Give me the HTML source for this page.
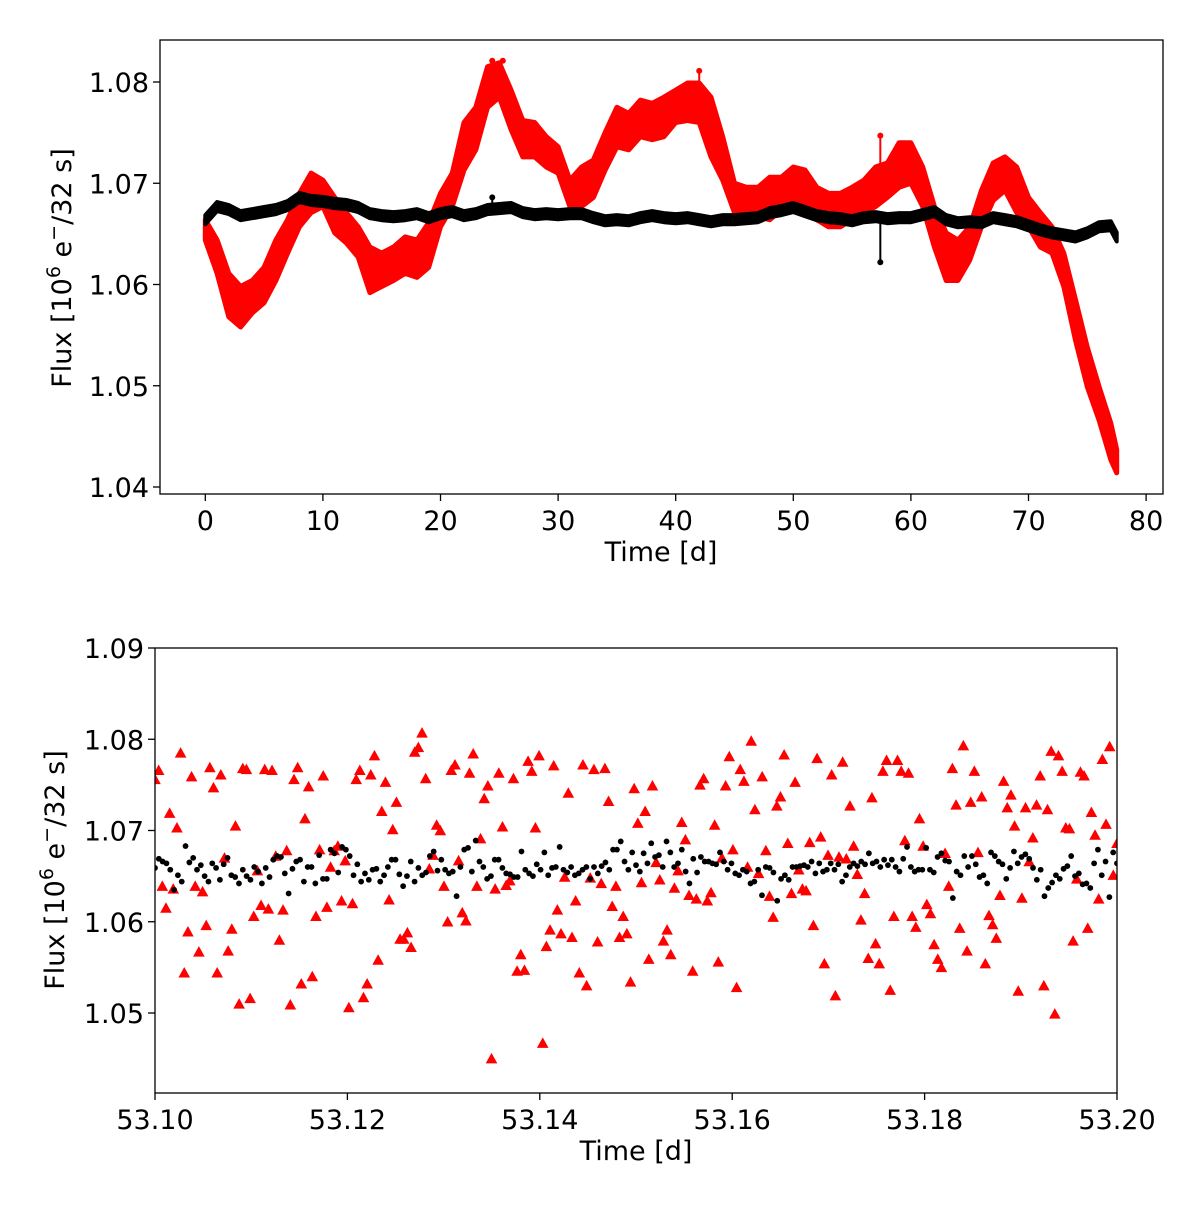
<!DOCTYPE html>
<html><head><meta charset="utf-8"><style>
body{margin:0;background:#fff;}
svg{display:block;font-family:"DejaVu Sans","Liberation Sans",sans-serif;}
</style></head><body>
<svg id="fig" width="1200" height="1205" viewBox="0 0 1200 1205" xmlns="http://www.w3.org/2000/svg">
<g id="top"></g>
<g id="bot"></g>
</svg>
<script>
// ---------- top panel data (daily envelope of light curves) ----------
const topDays = [0,1,2,3,4,5,6,7,8,9,10,11,12,13,14,15,16,17,18,19,20,21,22,23,24,25,26,27,28,29,30,31,32,33,34,35,36,37,38,39,40,41,42,43,44,45,46,47,48,49,50,51,52,53,54,55,56,57,58,59,60,61,62,63,64,65,66,67,68,69,70,71,72,73,74,75,76,77,77.5];
const redHi = [1.0664,1.0644,1.0611,1.0598,1.0604,1.0617,1.0644,1.0664,1.0690,1.0710,1.0703,1.0686,1.0671,1.0657,1.0637,1.0631,1.0637,1.0647,1.0644,1.0661,1.0690,1.0710,1.0760,1.0775,1.0815,1.0819,1.0792,1.0762,1.0760,1.0746,1.0736,1.0703,1.0716,1.0723,1.0750,1.0775,1.0769,1.0782,1.0779,1.0785,1.0792,1.0799,1.0799,1.0785,1.0746,1.0700,1.0696,1.0696,1.0706,1.0706,1.0716,1.0713,1.0696,1.0690,1.0690,1.0696,1.0703,1.0716,1.0720,1.0740,1.0740,1.0716,1.0677,1.0651,1.0644,1.0657,1.0693,1.0720,1.0726,1.0716,1.0686,1.0671,1.0657,1.0631,1.0585,1.0538,1.0499,1.0463,1.0437];
const redLo = [1.0644,1.0611,1.0568,1.0558,1.0572,1.0582,1.0604,1.0631,1.0657,1.0671,1.0677,1.0651,1.0641,1.0627,1.0592,1.0598,1.0604,1.0611,1.0607,1.0617,1.0657,1.0677,1.0713,1.0733,1.0775,1.0785,1.0753,1.0726,1.0726,1.0716,1.0710,1.0677,1.0677,1.0686,1.0713,1.0736,1.0733,1.0746,1.0743,1.0746,1.0760,1.0762,1.0760,1.0726,1.0703,1.0671,1.0667,1.0667,1.0664,1.0674,1.0680,1.0677,1.0664,1.0657,1.0657,1.0664,1.0671,1.0677,1.0686,1.0696,1.0700,1.0677,1.0637,1.0604,1.0604,1.0624,1.0657,1.0683,1.0693,1.0671,1.0657,1.0637,1.0631,1.0598,1.0545,1.0499,1.0466,1.0427,1.0414];
const blackMid = [1.0664,1.0677,1.0674,1.0668,1.0670,1.0672,1.0674,1.0678,1.0686,1.0683,1.0682,1.0680,1.0679,1.0676,1.0670,1.0668,1.0667,1.0668,1.0670,1.0666,1.0670,1.0672,1.0668,1.0670,1.0674,1.0675,1.0676,1.0671,1.0669,1.0670,1.0669,1.0670,1.0670,1.0666,1.0663,1.0664,1.0663,1.0666,1.0668,1.0666,1.0665,1.0666,1.0664,1.0662,1.0664,1.0664,1.0665,1.0666,1.0671,1.0673,1.0676,1.0672,1.0668,1.0666,1.0665,1.0663,1.0666,1.0667,1.0665,1.0666,1.0666,1.0669,1.0672,1.0664,1.0661,1.0662,1.0661,1.0666,1.0664,1.0662,1.0658,1.0654,1.0651,1.0649,1.0647,1.0651,1.0657,1.0658,1.0647];
const blackHalfWidth = 0.00045;
const redSpikeT = [24.4,25.3,42.0,57.4];
const redSpikeV = [1.0821,1.0821,1.0811,1.0747];
const blackSpikeT = [24.4,57.4];
const blackSpikeV = [1.0686,1.0622];
const topXTicks = [0,10,20,30,40,50,60,70,80];
const topYTicks = [1.04,1.05,1.06,1.07,1.08];
const topYLabels = ["1.04","1.05","1.06","1.07","1.08"];

// ---------- bottom panel data ----------
const redFlux = [1.0756,1.0766,1.0639,1.0615,1.0719,1.0636,1.0703,1.0785,1.0544,1.0589,1.0759,1.0639,1.0567,1.0633,1.0596,1.0769,1.0747,1.0544,1.0761,1.0670,1.0568,1.0592,1.0705,1.0510,1.0768,1.0767,1.0516,1.0606,1.0656,1.0618,1.0767,1.0614,1.0766,1.0672,1.0580,1.0613,1.0678,1.0509,1.0756,1.0769,1.0532,1.0713,1.0748,1.0540,1.0606,1.0679,1.0760,1.0616,1.0660,1.0678,1.0683,1.0623,1.0667,1.0506,1.0620,1.0756,1.0766,1.0517,1.0532,1.0761,1.0782,1.0558,1.0721,1.0753,1.0624,1.0701,1.0731,1.0581,1.0581,1.0588,1.0572,1.0786,1.0791,1.0807,1.0757,1.0658,1.0673,1.0706,1.0700,1.0639,1.0600,1.0766,1.0772,1.0667,1.0610,1.0601,1.0763,1.0784,1.0639,1.0691,1.0735,1.0749,1.0450,1.0636,1.0763,1.0704,1.0640,1.0645,1.0757,1.0546,1.0564,1.0547,1.0776,1.0765,1.0703,1.0782,1.0467,1.0573,1.0591,1.0771,1.0613,1.0587,1.0649,1.0741,1.0583,1.0623,1.0544,1.0772,1.0530,1.0648,1.0767,1.0578,1.0642,1.0768,1.0732,1.0617,1.0639,1.0583,1.0606,1.0587,1.0534,1.0746,1.0708,1.0643,
1.0721,1.0559,1.0749,1.0665,1.0646,1.0579,1.0591,1.0564,1.0637,1.0656,1.0709,1.0690,1.0629,1.0546,1.0625,1.0750,1.0757,1.0623,1.0632,1.0706,1.0556,1.0670,1.0749,1.0781,1.0679,1.0528,1.0767,1.0754,1.0660,1.0798,1.0723,1.0653,1.0759,1.0678,1.0628,1.0605,1.0727,1.0737,1.0783,1.0686,1.0631,1.0753,1.0657,1.0636,1.0634,1.0687,1.0596,1.0779,1.0693,1.0554,1.0673,1.0761,1.0519,1.0671,1.0775,1.0669,1.0727,1.0683,1.0652,1.0602,1.0631,1.0560,1.0736,1.0576,1.0554,1.0765,1.0777,1.0525,1.0606,1.0777,1.0765,1.0689,1.0763,1.0606,1.0594,1.0713,1.0683,1.0619,1.0609,1.0575,1.0559,1.0550,1.0675,1.0639,1.0768,1.0728,1.0593,1.0793,1.0568,1.0731,1.0765,1.0676,1.0737,1.0554,1.0607,1.0597,1.0582,1.0629,1.0754,1.0725,1.0739,1.0705,1.0524,1.0626,1.0725,1.0666,1.0692,1.0728,1.0760,1.0530,1.0723,1.0787,1.0499,1.0782,1.0765,1.0703,1.0702,1.0579,1.0647,1.0764,1.0760,1.0593,1.0720,1.0695,1.0625,1.0778,1.0707,1.0792,1.0651,1.0686];
const blackFlux = [1.0659,1.0669,1.0666,1.0664,1.0657,1.0635,1.0651,1.0644,1.0683,1.0665,1.0670,1.0657,1.0662,1.0650,1.0644,1.0664,1.0659,1.0646,1.0663,1.0670,1.0651,1.0649,1.0642,1.0657,1.0650,1.0646,1.0660,1.0655,1.0642,1.0659,1.0649,1.0668,1.0672,1.0671,1.0653,1.0631,1.0658,1.0666,1.0668,1.0644,1.0660,1.0660,1.0642,1.0673,1.0647,1.0647,1.0679,1.0675,1.0654,1.0682,1.0679,1.0672,1.0651,1.0663,1.0644,1.0653,1.0646,1.0657,1.0658,1.0644,1.0651,1.0660,1.0668,1.0668,1.0652,1.0639,1.0650,1.0666,1.0644,1.0659,1.0651,1.0654,1.0672,1.0677,1.0656,1.0668,1.0657,1.0653,1.0655,1.0628,1.0660,1.0679,1.0681,1.0655,1.0689,1.0666,1.0660,1.0647,1.0650,1.0668,1.0668,1.0659,1.0653,1.0652,1.0649,1.0649,1.0677,1.0657,1.0653,1.0650,1.0663,1.0657,1.0676,1.0651,1.0659,1.0660,1.0682,1.0657,1.0654,1.0660,1.0651,1.0653,1.0657,1.0660,1.0647,1.0660,1.0653,1.0661,1.0665,1.0657,1.0679,1.0679,1.0688,1.0666,1.0657,1.0676,1.0662,
1.0655,1.0675,1.0664,1.0686,1.0671,1.0673,1.0660,1.0688,1.0676,1.0660,1.0664,1.0679,1.0655,1.0642,1.0669,1.0654,1.0671,1.0666,1.0666,1.0664,1.0663,1.0676,1.0666,1.0657,1.0664,1.0653,1.0651,1.0657,1.0655,1.0642,1.0644,1.0657,1.0629,1.0660,1.0659,1.0654,1.0623,1.0647,1.0651,1.0646,1.0660,1.0660,1.0661,1.0662,1.0660,1.0666,1.0653,1.0664,1.0655,1.0657,1.0664,1.0657,1.0663,1.0644,1.0651,1.0660,1.0664,1.0661,1.0666,1.0663,1.0675,1.0664,1.0666,1.0660,1.0668,1.0662,1.0668,1.0660,1.0655,1.0669,1.0682,1.0660,1.0655,1.0657,1.0657,1.0681,1.0657,1.0654,1.0671,1.0675,1.0667,1.0666,1.0626,1.0655,1.0651,1.0672,1.0660,1.0672,1.0663,1.0649,1.0651,1.0642,1.0676,1.0672,1.0666,1.0663,1.0647,1.0659,1.0677,1.0664,1.0671,1.0674,1.0669,1.0659,1.0646,1.0657,1.0628,1.0637,1.0643,1.0651,1.0647,1.0658,1.0661,1.0672,1.0650,1.0653,1.0641,1.0642,1.0637,1.0664,1.0679,1.0651,1.0666,1.0627,1.0676,1.0664];
const botTStart = 53.10;
const botTEnd = 53.20;
const botXTicks = [53.10,53.12,53.14,53.16,53.18,53.20];
const botXLabels = ["53.10","53.12","53.14","53.16","53.18","53.20"];
const botYTicks = [1.05,1.06,1.07,1.08,1.09];
const botYLabels = ["1.05","1.06","1.07","1.08","1.09"];

const NS = "http://www.w3.org/2000/svg";
function mk(parent, tag, attrs){const e=document.createElementNS(NS,tag);for(const k in attrs)e.setAttribute(k,attrs[k]);parent.appendChild(e);return e;}

const tX = v => 205.3 + v*11.76;
const tY = v => 82 + (1.08 - v)*10125;
const bX = v => 155 + (v-53.10)*9620;
const bY = v => 648 + (1.09 - v)*9125;

function axes(g, L, T, R, B, name){
  const f = mk(g,'rect',{x:L,y:T,width:R-L,height:B-T,fill:'none',stroke:'#000','stroke-width':1.3});
  
  
}
function text(g, x, y, s, anchor, name, size){
  const t = mk(g,'text',{x:x,y:y,'text-anchor':anchor,'font-size':size||27,fill:'#000'});
  t.textContent = s;
  
  
  return t;
}
function yTitle(g, x, cy, name){
  const t = mk(g,'text',{x:0,y:0,'text-anchor':'middle','font-size':27,transform:`translate(${x},${cy}) rotate(-90)`});
  
  
  t.innerHTML = 'Flux [10<tspan dy="-11" font-size="19">6</tspan><tspan dy="11"> e</tspan><tspan dy="-11" font-size="19">−</tspan><tspan dy="11">/32 s]</tspan>';
}

// ---------- TOP ----------
const gt = document.getElementById('top');
const clipT = mk(gt,'clipPath',{id:'ct'}); mk(clipT,'rect',{x:160,y:40,width:1003,height:454});
const dataT = mk(gt,'g',{'clip-path':'url(#ct)'});



function band(parent, hiArr, loArr, color, name, sw){
  let d='M';
  for(let i=0;i<topDays.length;i++) d += tX(topDays[i]).toFixed(1)+','+tY(hiArr[i]).toFixed(1)+' L';
  for(let i=topDays.length-1;i>=0;i--) d += tX(topDays[i]).toFixed(1)+','+tY(loArr[i]).toFixed(1)+(i>0?' L':' Z');
  const p = mk(parent,'path',{d:d,fill:color,stroke:color,'stroke-width':sw,'stroke-linejoin':'round'});
  
  
}
band(dataT, redHi, redLo, '#ff0000', 'red-light-curve', 5);
for(let i=0;i<redSpikeT.length;i++){
  const x=tX(redSpikeT[i]);
  const mid = (redHi[Math.round(redSpikeT[i])]);
  const l = mk(dataT,'line',{x1:x,y1:tY(mid),x2:x,y2:tY(redSpikeV[i]),stroke:'#ff0000','stroke-width':2});
  
  
  mk(dataT,'circle',{cx:x,cy:tY(redSpikeV[i]),r:3,fill:'#ff0000'});
}
const blackHi = blackMid.map(v=>v+blackHalfWidth), blackLo = blackMid.map(v=>v-blackHalfWidth);
band(dataT, blackHi, blackLo, '#000000', 'black-light-curve', 4);
for(let i=0;i<blackSpikeT.length;i++){
  const x=tX(blackSpikeT[i]);
  const mid = blackMid[Math.round(blackSpikeT[i])];
  const l = mk(dataT,'line',{x1:x,y1:tY(mid),x2:x,y2:tY(blackSpikeV[i]),stroke:'#000','stroke-width':2});
  
  
  mk(dataT,'circle',{cx:x,cy:tY(blackSpikeV[i]),r:3,fill:'#000'});
}
axes(gt,160,40,1163,494,'top');
topXTicks.forEach(v=>{
  const x=tX(v);
  const tk = mk(gt,'line',{x1:x,y1:494,x2:x,y2:501,stroke:'#000','stroke-width':1.3});
  
  
  text(gt,x,530,String(v),'middle','top-x-tick-label');
});
topYTicks.forEach((v,i)=>{
  const y=tY(v);
  const tk = mk(gt,'line',{x1:153,y1:y,x2:160,y2:y,stroke:'#000','stroke-width':1.3});
  
  
  text(gt,149,y+10,topYLabels[i],'end','top-y-tick-label');
});
text(gt,661,561,'Time [d]','middle','top-x-axis-title');
yTitle(gt,71,268,'top-y-axis-title');

// ---------- BOTTOM ----------
const gb = document.getElementById('bot');
const clipB = mk(gb,'clipPath',{id:'cb'}); mk(clipB,'rect',{x:155,y:648,width:962,height:445});
const dataB = mk(gb,'g',{'clip-path':'url(#cb)'});


const redStep = (botTEnd-botTStart)/(redFlux.length-1);
redFlux.forEach((v,i)=>{
  const x=bX(botTStart+i*redStep), y=bY(v);
  const p = mk(dataB,'polygon',{points:`${x-5.8},${y+4.7} ${x+5.8},${y+4.7} ${x},${y-5.8}`,fill:'#ff0000'});
  
  
});
const blackStep = (botTEnd-botTStart)/(blackFlux.length-1);
blackFlux.forEach((v,i)=>{
  const c = mk(dataB,'circle',{cx:bX(botTStart+i*blackStep),cy:bY(v),r:2.9,fill:'#000'});
  
  
});
axes(gb,155,648,1117,1093,'bottom');
botXTicks.forEach((v,i)=>{
  const x=bX(v);
  const tk = mk(gb,'line',{x1:x,y1:1093,x2:x,y2:1100,stroke:'#000','stroke-width':1.3});
  
  
  text(gb,x,1129,botXLabels[i],'middle','bottom-x-tick-label');
});
botYTicks.forEach((v,i)=>{
  const y=bY(v);
  const tk = mk(gb,'line',{x1:148,y1:y,x2:155,y2:y,stroke:'#000','stroke-width':1.3});
  
  
  text(gb,144,y+10,botYLabels[i],'end','bottom-y-tick-label');
});
text(gb,636,1160,'Time [d]','middle','bottom-x-axis-title');
yTitle(gb,64,870,'bottom-y-axis-title');
</script>
</body></html>
